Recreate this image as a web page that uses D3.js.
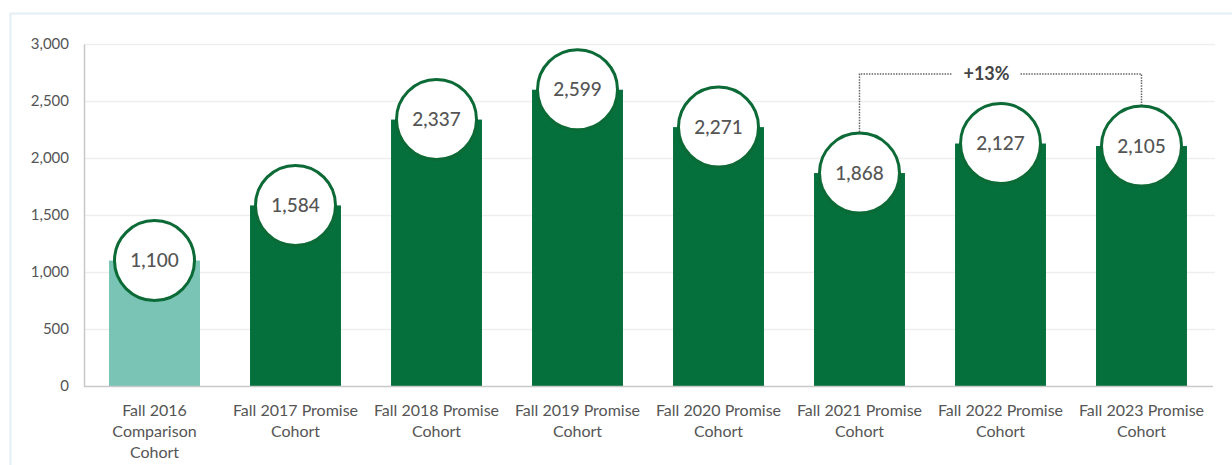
<!DOCTYPE html>
<html>
<head>
<meta charset="utf-8">
<script src="https://cdn.jsdelivr.net/npm/d3@7"></script>
<style>
  body { margin: 0; background: #fff; }
  text { font-family: "Source Sans Pro", Lato, "Noto Sans", sans-serif; }
</style>
</head>
<body>
<svg id="chart" width="1232" height="465"></svg>
<script>
// chart data
const cohorts = [
  ["Fall 2016", "Comparison", "Cohort"],
  ["Fall 2017 Promise", "Cohort"],
  ["Fall 2018 Promise", "Cohort"],
  ["Fall 2019 Promise", "Cohort"],
  ["Fall 2020 Promise", "Cohort"],
  ["Fall 2021 Promise", "Cohort"],
  ["Fall 2022 Promise", "Cohort"],
  ["Fall 2023 Promise", "Cohort"]
];
const students = [1100, 1584, 2337, 2599, 2271, 1868, 2127, 2105];
const yTicks = [0, 500, 1000, 1500, 2000, 2500, 3000];
const changeFrom = 5, changeTo = 7;
const changeLabel = "+13%";

const svg = d3.select("#chart");
const marge = {top: 44, bottom: 79, left: 84, right: 20};
const width = +svg.attr("width");
const height = +svg.attr("height");

// outer frame (only top and left edges show)
svg.append("path")
  .attr("d", "M10.5,465 V13.5 H1232")
  .attr("fill", "none")
  .attr("stroke", "#e3eef4")
  .attr("stroke-width", 2);

const xScale = d3.scaleBand()
  .domain(d3.range(students.length))
  .range([marge.left, 1212])
  .paddingInner(0.355)
  .paddingOuter(0.1775);

const yScale = d3.scaleLinear()
  .domain([0, 3000])
  .range([height - marge.bottom, marge.top]);

// gridlines
svg.append("g").selectAll("line")
  .data(yTicks.filter(d => d > 0))
  .join("line")
  .attr("x1", marge.left)
  .attr("x2", 1215)
  .attr("y1", d => yScale(d) + 0.5)
  .attr("y2", d => yScale(d) + 0.5)
  .attr("stroke", "#eeeeee")
  .attr("stroke-width", 1.5);

// y axis
const yAxis = d3.axisLeft(yScale)
  .tickValues(yTicks)
  .tickSize(0)
  .tickPadding(15)
  .tickFormat(d3.format(","));
const gy = svg.append("g")
  .attr("transform", "translate(" + marge.left + ",0)")
  .call(yAxis);
gy.select(".domain").attr("stroke", "#c8c8c8").attr("stroke-width", 1.5);
gy.selectAll("text").attr("fill", "#555").style("font-size", "15px");

// bars
const bars = svg.append("g");
bars.selectAll("rect")
  .data(students)
  .join("rect")
  .attr("x", (d, i) => xScale(i))
  .attr("y", d => yScale(d))
  .attr("width", xScale.bandwidth())
  .attr("height", d => yScale(0) - yScale(d))
  .attr("fill", (d, i) => i === 0 ? "#79c4b4" : "#05703c");

// x axis line
svg.append("line")
  .attr("x1", marge.left)
  .attr("x2", 1213)
  .attr("y1", yScale(0) + 0.5)
  .attr("y2", yScale(0) + 0.5)
  .attr("stroke", "#c8c8c8")
  .attr("stroke-width", 1.5);

// category labels
const labels = svg.append("g");
labels.selectAll("text")
  .data(cohorts)
  .join("text")
  .attr("x", (d, i) => xScale(i) + xScale.bandwidth() / 2)
  .attr("y", yScale(0) + 30)
  .attr("text-anchor", "middle")
  .attr("fill", "#555")
  .style("font-size", "16px")
  .selectAll("tspan")
  .data(d => d)
  .join("tspan")
  .attr("x", function() { return d3.select(this.parentNode).attr("x"); })
  .attr("dy", (d, i) => i === 0 ? 0 : 21)
  .text(d => d);

// value bubbles
const r = 40;
const bubbles = svg.append("g").selectAll("g")
  .data(students)
  .join("g")
  .attr("transform", (d, i) => "translate(" + (xScale(i) + xScale.bandwidth() / 2) + "," + yScale(d) + ")");
bubbles.append("circle")
  .attr("r", r)
  .attr("fill", "#fff")
  .attr("stroke", "#0b6a35")
  .attr("stroke-width", 3);
bubbles.append("text")
  .attr("text-anchor", "middle")
  .attr("dy", "0.35em")
  .attr("fill", "#555")
  .style("font-size", "19px")
  .style("font-weight", "500")
  .text(d => d3.format(",")(d));

// change annotation
const x1 = xScale(changeFrom) + xScale.bandwidth() / 2;
const x2 = xScale(changeTo) + xScale.bandwidth() / 2;
const yTop = 74;
const xMid = (x1 + x2) / 2;
const note = svg.append("g")
  .attr("fill", "none")
  .attr("stroke", "#666")
  .attr("stroke-width", 1.5)
  .attr("stroke-dasharray", "1.5,1.2");
note.append("path")
  .attr("d", "M" + x1 + "," + (yScale(students[changeFrom]) - r - 1) + " V" + yTop + " H" + (xMid - 49));
note.append("path")
  .attr("d", "M" + (xMid + 20) + "," + yTop + " H" + x2 + " V" + (yScale(students[changeTo]) - r - 1));
svg.append("text")
  .attr("x", xMid - 14)
  .attr("y", yTop)
  .attr("dy", "0.35em")
  .attr("text-anchor", "middle")
  .attr("fill", "#444")
  .style("font-size", "18px")
  .style("font-weight", "bold")
  .text(changeLabel);
</script>
</body>
</html>
